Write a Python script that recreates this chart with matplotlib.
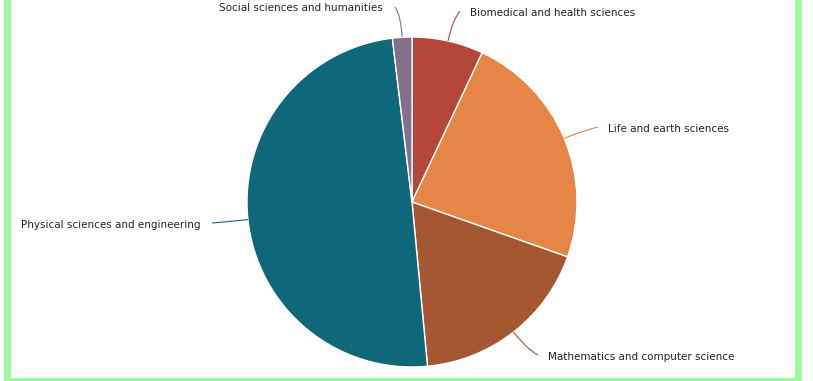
import numpy as np
import matplotlib.pyplot as plt
from matplotlib.path import Path
from matplotlib.patches import PathPatch, Rectangle

# dados (percentagem por área)
areas = ['Biomedical and health sciences', 'Life and earth sciences',
         'Mathematics and computer science', 'Physical sciences and engineering',
         'Social sciences and humanities']
valores = [7.0, 23.4, 18.1, 49.6, 1.9]
cores = ['#b4463a', '#e58646', '#a55731', '#0e6879', '#846f8c']

# posição dos rótulos (pixels) e alinhamento
pos_rotulos = [(470, 13), (608, 129), (548, 357), (200, 225), (383, 8)]
alinh = ['left', 'left', 'left', 'right', 'right']

W, H = 813, 381
cx, cy, raio = 412, 202, 165

fig = plt.figure(figsize=(W / 100, H / 100), dpi=100)
ax = fig.add_axes([0, 0, 1, 1])

# eixo y invertido: startangle=-90 começa no topo e segue no sentido horário
wedges, _ = ax.pie(valores, colors=cores, startangle=-90, counterclock=True,
                   center=(cx, cy), radius=raio,
                   wedgeprops=dict(edgecolor='white', linewidth=1))
ax.set_xlim(0, W)
ax.set_ylim(H, 0)
ax.set_aspect('auto')
ax.axis('off')

for w, nome, cor, (tx, ty), ha in zip(wedges, areas, cores, pos_rotulos, alinh):
    ang = np.deg2rad((w.theta1 + w.theta2) / 2)
    p0 = (cx + raio * np.cos(ang), cy + raio * np.sin(ang))
    p1 = (cx + (raio + 22) * np.cos(ang), cy + (raio + 22) * np.sin(ang))
    fim = (tx - 10, ty - 2) if ha == 'left' else (tx + 12, ty - 1)
    if nome.startswith('Physical'):
        fim = (tx + 12, ty - 2)
    caminho = Path([p0, p1, fim], [Path.MOVETO, Path.CURVE3, Path.CURVE3])
    ax.add_patch(PathPatch(caminho, facecolor='none', edgecolor=cor, lw=0.8))
    ax.text(tx, ty, nome, ha=ha, va='center', fontsize=7.5, color='#222222')

# moldura verde
ax.add_patch(Rectangle((6.5, -2), 791.5, 382.5, facecolor='none',
                       edgecolor='#a0f89c', lw=5, clip_on=False))

fig.savefig('out.png', dpi=100)
